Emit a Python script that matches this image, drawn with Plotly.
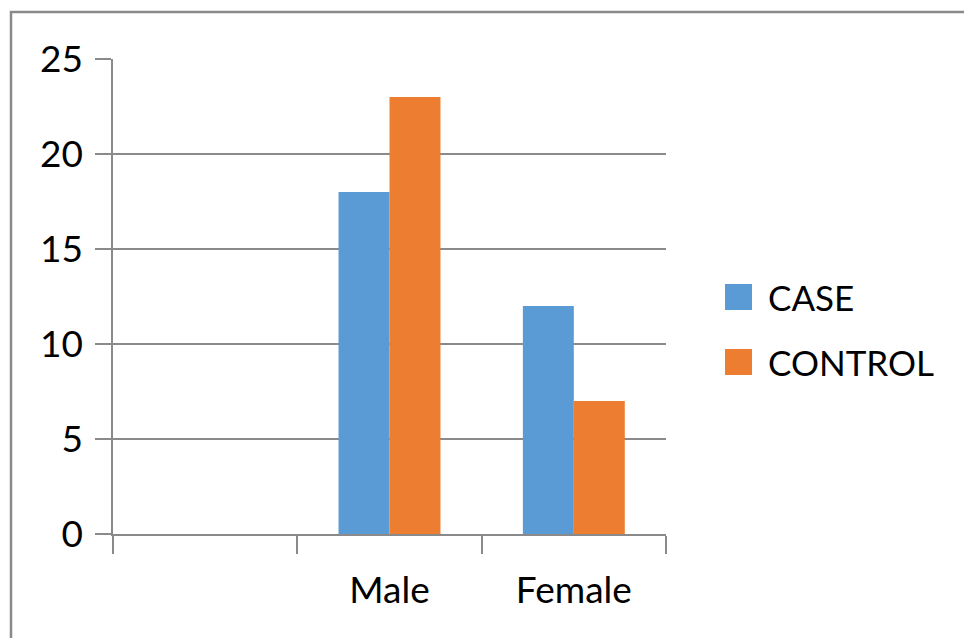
import plotly.graph_objects as go

# Chart data
categories = [" ", "Male", "Female"]
series_names = ["CASE", "CONTROL"]
case_values = [None, 18, 12]
control_values = [None, 23, 7]
y_ticks = [0, 5, 10, 15, 20, 25]

colors = ["#5B9BD5", "#ED7D31"]
grey = "#8a8a8a"
font_family = "Lato, Open Sans, sans-serif"
font_size = 37
legend_font_size = 35
text_color = "#000000"

W, H = 964, 638
left, right, top, bottom = 113, 298, 59, 104
plot_w = W - left - right
plot_h = H - top - bottom


def px_to_paper_x(px):
    return (px - left) / plot_w


def px_to_paper_y(py):
    return (H - bottom - py) / plot_h


fig = go.Figure()
for name, vals, col in zip(series_names, [case_values, control_values], colors):
    fig.add_trace(go.Bar(x=categories, y=vals, name=name, marker_color=col,
                         marker_line_width=0, showlegend=False))

# Hand-drawn legend with large colour squares
legend_rows = [297, 362]
shapes = []
annotations = []
for name, col, cy in zip(series_names, colors, legend_rows):
    shapes.append(dict(type="rect", xref="paper", yref="paper",
                       x0=px_to_paper_x(725), x1=px_to_paper_x(752),
                       y0=px_to_paper_y(cy + 13), y1=px_to_paper_y(cy - 13),
                       fillcolor=col, line_width=0))
    annotations.append(dict(xref="paper", yref="paper", x=px_to_paper_x(766),
                            y=px_to_paper_y(cy), text=name, showarrow=False,
                            xanchor="left", yanchor="middle",
                            font=dict(family=font_family, size=legend_font_size,
                                      color=text_color)))

# Outer frame (left and top edges visible, running off the page)
shapes.append(dict(type="rect", xref="paper", yref="paper",
                   x0=px_to_paper_x(11), x1=px_to_paper_x(W + 20),
                   y0=px_to_paper_y(H + 20), y1=px_to_paper_y(12),
                   line=dict(color=grey, width=2.5), fillcolor="rgba(0,0,0,0)",
                   layer="below"))

fig.update_layout(
    width=W, height=H,
    margin=dict(l=left, r=right, t=top, b=bottom, pad=0),
    paper_bgcolor="white", plot_bgcolor="white",
    barmode="group", bargap=0.447, bargroupgap=0,
    showlegend=False,
    shapes=shapes, annotations=annotations,
    font=dict(family=font_family, size=font_size, color=text_color),
)
fig.update_xaxes(
    type="category", categoryorder="array", categoryarray=categories,
    showline=True, linecolor=grey, linewidth=1.5,
    ticks="outside", tickson="boundaries", ticklen=18, tickcolor=grey, tickwidth=1.5,
    ticklabelstandoff=23, showgrid=False, range=[-0.5, 2.5],
)
fig.update_yaxes(
    range=[0, 25], tickvals=y_ticks, showline=True, linecolor=grey, linewidth=1.5,
    ticks="outside", ticklen=16, tickcolor=grey, tickwidth=1.5,
    showgrid=True, gridcolor=grey, gridwidth=1.5, zeroline=False,
    ticklabelstandoff=5,
)

fig.write_html("out.html")
